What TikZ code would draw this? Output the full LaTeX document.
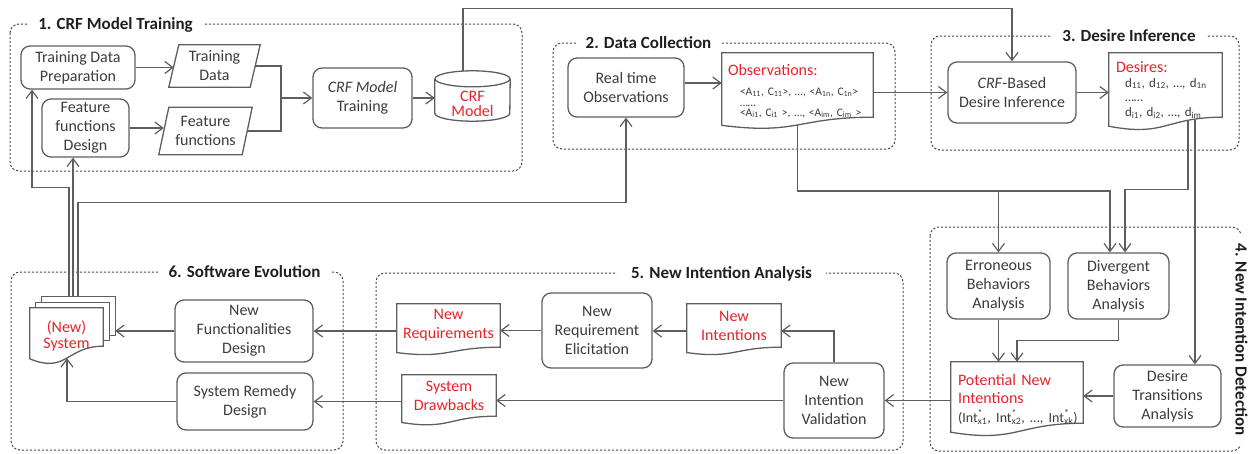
\documentclass[tikz,border=0pt]{standalone}
\usepackage{fontspec}
\setmainfont{Carlito}
\usetikzlibrary{arrows.meta,calc}
\pgfdeclarelayer{background}
\pgfsetlayers{background,main}
\definecolor{txt}{HTML}{3C3C3C}
\definecolor{ln}{HTML}{5E5E5E}
\definecolor{redt}{HTML}{E3242B}
\definecolor{grpc}{HTML}{4A4A4A}
\newcommand\subsup[2]{\rlap{\textsuperscript{#2}}\textsubscript{#1}}
\newcommand\paraout[2]{\draw[draw=ln,line width=1.3pt] ($(#1.north west)+(#2/2,0)$) -- ($(#1.north east)+(#2/2,0)$) -- ($(#1.south east)-(#2/2,0)$) -- ($(#1.south west)-(#2/2,0)$) -- cycle;}
\newcommand\docout[2]{\draw[draw=ln,line width=1.3pt,fill=white] (#1.south east) -- (#1.north east) -- (#1.north west) -- ($(#1.south west)+(0,0.45*#2)$) .. controls ($(#1.south)+(0,#2)$) and (#1.south) .. (#1.south east) -- cycle;}
\begin{document}
\begin{tikzpicture}[x=1pt,y=-1pt,
  wh/.style 2 args={minimum width=#1pt,minimum height=#2pt},
  basetxt/.style={font=\fontsize{16}{19}\selectfont, text=txt, align=center, inner sep=0pt},
  proc/.style={basetxt, draw=ln, line width=1.3pt, rounded corners=9pt},
  redtxt/.style={text=redt},
  doctxt/.style={basetxt, align=left},
  grpbox/.style={draw=grpc, line width=1pt, dash pattern=on 2.2pt off 1.8pt, rounded corners=9pt},
  grptitle/.style={font=\bfseries\fontsize{17}{20}\selectfont, text=black!88, fill=white, inner xsep=10pt, inner ysep=1pt, anchor=base},
  conn/.style={draw=ln, line width=1.2pt},
  arr/.style={conn, -{Straight Barb[length=8pt,width=12pt]}}
]
\useasboundingbox (0,0) rectangle (1248,453);

% groups
\draw[grpbox] (10,24) rectangle (522,171);
\draw[grpbox] (553,43) rectangle (895,149);
\draw[grpbox] (931,36) rectangle (1239,150);
\draw[grpbox] (930,227) rectangle (1241,451);
\draw[grpbox] (376,273) rectangle (903,450);
\draw[grpbox] (11,272) rectangle (343,450);

\node[grptitle] (t1) at (115.5,29.5) {1. CRF Model Training};
\node[grptitle] (t2) at (648.5,48.5) {2. Data Collection};
\node[grptitle] (t3) at (1129,41.5) {3. Desire Inference};
\node[grptitle, rotate=-90] (t4) at (1235.5,339.5) {4. New Intention Detection};
\node[grptitle, inner xsep=14pt] (t5) at (721.5,278.5) {5. New Intention Analysis};
\node[grptitle] (t6) at (244.5,277.5) {6. Software Evolution};

% group 1
\node[proc, wh={114}{43}] (tdp) at (78,67.5) {Training Data\\Preparation};
\node[proc, wh={87}{58}] (ffd) at (85.5,128) {Feature\\functions\\Design};
\node[basetxt, wh={81}{42}] (td) at (214.5,66) {Training\\Data};
\node[basetxt, wh={83}{47}] (ff) at (205.5,131) {Feature\\functions};
\paraout{td}{10}
\paraout{ff}{10}
\node[proc, wh={99}{60}] (cmt) at (362.5,98) {\textit{CRF Model}\\Training};
\node[basetxt, redtxt, wh={75}{34}, text width=75pt, font=\fontsize{16}{15}\selectfont, text height=20pt, text depth=10pt] (crf) at (472.5,96) {CRF\\Model};
\draw[draw=ln,line width=1.3pt] (crf.north west) -- (crf.south west) arc[start angle=180,end angle=360,x radius=37.5pt,y radius=8pt] -- (crf.north east);
\draw[draw=ln,line width=1.3pt] (crf.north) ellipse [x radius=37.5pt, y radius=8pt];

% group 2
\node[proc, wh={116}{59}] (rto) at (626,87.5) {Real time\\Observations};
\node[doctxt, wh={151}{64}, inner xsep=6pt, text width=139pt, text height=10pt, text depth=30pt, font=\fontsize{11.5}{15}\selectfont] (obs) at (797.5,85)
 {{\fontsize{16}{15}\selectfont\textcolor{redt}{Observations:}}\\[5pt]
  \hspace*{12pt}<A\textsubscript{11}, C\textsubscript{11}>, …, <A\textsubscript{1n}, C\textsubscript{1n}>\\[6pt]
  \hspace*{12pt}\rlap{\raisebox{10pt}{……}}<A\textsubscript{i1}, C\textsubscript{i1} >, …, <A\textsubscript{im}, C\textsubscript{im} >};

% group 3
\node[proc, wh={128}{61}] (cbdi) at (1012,92.5) {\textit{CRF}-Based\\Desire Inference};
\node[doctxt, wh={113}{64}, inner xsep=7pt, text width=99pt, text height=10pt, text depth=36pt, font=\fontsize{13}{15}\selectfont] (des) at (1165.5,85)
 {{\fontsize{16}{15}\selectfont\textcolor{redt}{Desires:}}\\
  \hspace*{9pt}d\textsubscript{11}, d\textsubscript{12}, …, d\textsubscript{1n}\\[10pt]
  \hspace*{9pt}\rlap{\raisebox{15pt}{……}}d\textsubscript{i1}, d\textsubscript{i2}, …, d\textsubscript{im}};

% group 4
\node[proc, wh={103}{66}] (eba) at (998.5,286) {Erroneous\\Behaviors\\Analysis};
\node[proc, wh={101}{66}] (dba) at (1118.5,286) {Divergent\\Behaviors\\Analysis};
\node[proc, wh={107}{62}] (dta) at (1167.5,396) {Desire\\Transitions\\Analysis};
\node[doctxt, wh={132}{61}, inner xsep=7pt, text width=118pt, text height=10pt, text depth=25pt, font=\fontsize{16}{18.6}\selectfont] (pni) at (1017,392.5)
 {\textcolor{redt}{Potential New}\\
  \textcolor{redt}{Intentions}\\
  \mbox{\fontsize{14}{18.6}\selectfont(Int\subsup{x1}{*}, Int\subsup{x2}{*}, …, Int\subsup{xk}{*})}};

% group 5
\node[proc, wh={110}{75}] (nre) at (597,330.5) {New\\Requirement\\Elicitation};
\node[proc, wh={100}{75}] (niv) at (834,400.5) {New\\Intention\\Validation};
\node[basetxt, redtxt, wh={103}{43}] (nr) at (448.5,325.5) {New\\Requirements};
\node[basetxt, redtxt, wh={94}{43}] (ni) at (734,325.5) {New\\Intentions};
\node[basetxt, redtxt, wh={94}{41}] (sd) at (449,395.5) {System\\Drawbacks};

% group 6
\node[proc, wh={138}{62}] (nfd) at (244,331) {New\\Functionalities\\Design};
\node[proc, wh={136}{57}] (srd) at (245,401.5) {System Remedy\\Design};
\node[basetxt, redtxt, wh={73}{38}, text width=73pt, text height=20pt, text depth=10pt, font=\fontsize{16}{16.5}\selectfont] (sys) at (66.5,327) {(New)\\System};
\node[wh={73}{38}, inner sep=0pt] (sys2) at (72.5,321.5) {};
\node[wh={73}{38}, inner sep=0pt] (sys3) at (78.5,316) {};

\begin{pgfonlayer}{background}
\docout{obs}{18}
\docout{des}{20}
\docout{pni}{20}
\docout{nr}{12}
\docout{ni}{12}
\docout{sd}{14}
\draw[draw=ln,line width=1.3pt,fill=white] (sys3.north west) rectangle (sys3.south east);
\draw[draw=ln,line width=1.3pt,fill=white] (sys2.north west) rectangle (sys2.south east);
\docout{sys}{28}
\end{pgfonlayer}

% connectors
\draw[arr] (tdp.east) -- (tdp.east -| td.west);
\draw[arr] (ffd.east) -- (ffd.east -| ff.west);
\coordinate (j1) at (281,98);
\draw[conn] (td.east) -| (j1);
\draw[conn] (ff.east) -| (j1);
\draw[arr] (j1) -- (cmt.west);
\draw[arr] (cmt.east) -- (cmt.east -| crf.west);
\draw[arr] ($(crf.north)+(-9.5,-7.7)$) -- ++(0,-62.3) -| (cbdi.north);
\draw[arr] ([yshift=4.5pt]rto.east) -- ([yshift=4.5pt]rto.east -| obs.west);
\draw[arr] (obs.east |- cbdi.west) -- (cbdi.west);
\draw[arr] (cbdi.east) -- (cbdi.east -| des.west);
\coordinate (jo) at (eba.north |- 0,191);
\draw[conn] ($(obs.south)+(0,7.8)$) |- (jo);
\draw[arr] (jo) -- (eba.north);
\draw[arr] (jo) -| ([xshift=-8.5pt]dba.north);
\draw[arr] ($(des.south)+(22.5,3)$) -- ++(0,69) -| ([xshift=6.5pt]dba.north);
\coordinate (d2) at ($(des.south)+(29.5,2.5)$);
\draw[arr] (d2) -- (d2 |- dta.north);
\draw[arr] (eba.south) -- (eba.south |- pni.north);
\draw[arr] (dba.south) -- ++(0,21) -| (pni.north);
\draw[arr] (dta.west) -- (dta.west -| pni.east);
\draw[arr] (pni.west |- niv.east) -- (niv.east);
\draw[arr] (niv.west) -- (niv.west -| sd.east);
\draw[arr] (niv.north) |- ([yshift=-5.5pt]ni.east);
\draw[arr] ([yshift=-5.5pt]ni.west) -- ([yshift=-5.5pt]ni.west -| nre.east);
\draw[arr] (nre.west) -- (nre.west -| nr.east);
\draw[arr] (nr.west |- nfd.east) -- (nfd.east);
\draw[arr] (sd.west |- srd.east) -- (srd.east);
\draw[arr] (nfd.west) -- (nfd.west -| sys3.east);
\draw[arr] (srd.west) -| ($(sys.south)+(0.5,12)$);
\draw[arr] ([xshift=-9.5pt]sys3.north) -- ++(0,-109) -| ([xshift=-46pt]tdp.south);
\draw[arr] ([xshift=-5.5pt]sys3.north) -- ([xshift=-5.5pt]sys3.north |- ffd.south);
\draw[arr] ([xshift=-0.5pt]sys3.north) -- ++(0,-94) -| (rto.south);
\end{tikzpicture}
\end{document}
